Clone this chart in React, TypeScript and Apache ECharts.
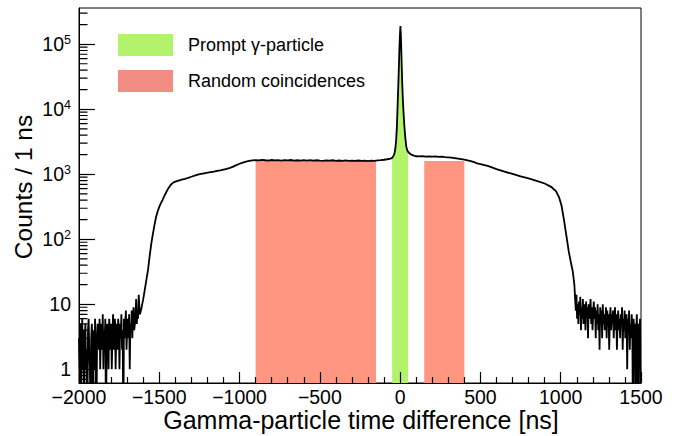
import React, { useEffect, useRef } from "react";
import * as echarts from "echarts";

const FONT = '"Liberation Sans", Arial, Helvetica, sans-serif';

// Axis ranges
const X_MIN = -2000;
const X_MAX = 1500;
const X_STEP = 500;
const Y_MIN_COUNT = 0.616;
const Y_MAX_COUNT = 360000;

// Histogram: noisy tails (counts per 1 ns, sampled every noiseBin ns)
const noiseBin = 4;
const leftNoiseStart = -2000;
const leftNoise = [
  3, 1, 5, 0, 2, 6, 1, 4, 0, 3, 5, 1, 2, 0, 4, 6, 2, 1, 0, 3, 5, 2, 0, 4, 1, 6, 3, 0, 2, 5,
  4, 2, 6, 1, 3, 5, 2, 7, 1, 4, 3, 6, 0, 2, 5, 3, 1, 6, 4, 2, 5, 1, 3, 7, 2, 4, 6, 1, 3, 5,
  2, 6, 4, 1, 5, 3, 7, 2, 4, 0, 6, 3, 5, 8, 2, 4, 6, 3, 7, 1, 5, 4, 8, 3, 6, 9, 4, 5, 7, 12,
  5, 8, 6, 14, 9,
];
const rightNoiseStart = 1090;
const rightNoise = [
  12, 8, 14, 6, 10, 5, 11, 7, 13, 4, 9, 6, 12, 5, 8, 10, 4, 11, 7, 9, 3, 10, 6, 8, 12, 5, 9, 4, 7, 11,
  6, 9, 3, 8, 5, 10, 4, 7, 2, 9, 6, 8, 3, 10, 5, 7, 4, 6, 9, 3, 8, 5, 7, 2, 6, 9, 4, 7, 5, 8,
  3, 6, 9, 4, 7, 2, 5, 8, 4, 6, 3, 7, 5, 9, 2, 6, 4, 8, 3, 5, 7, 1, 6, 4, 8, 2, 5, 3, 7, 4,
  0, 6, 3, 5, 0, 4, 7, 2, 0, 5, 3, 6, 0,
];

// Histogram: smooth central part (time [ns], counts)
const curveTimes = [
  -1620, -1610, -1600, -1590, -1580, -1570, -1560, -1550, -1540, -1530, -1520, -1510, -1500,
  -1490, -1480, -1470, -1460, -1450, -1440, -1430, -1420, -1410, -1400, -1380, -1360, -1340,
  -1320, -1300, -1280, -1260, -1240, -1220, -1200, -1180, -1160, -1140, -1120, -1100, -1080,
  -1060, -1040, -1020, -1000, -980, -960, -940, -920, -900,
  -880, -860, -840, -820, -800, -780, -760, -740, -720, -700, -680, -660, -640, -620, -600,
  -580, -560, -540, -520, -500, -480, -460, -440, -420, -400, -380, -360, -340, -320, -300,
  -280, -260, -240, -220, -200, -180, -160, -140, -120, -100, -80, -60,
  -50, -40, -35, -30, -25, -20, -15, -10, -6, -3, 0, 2, 4, 6, 8, 10, 13, 17, 21, 25, 29, 33,
  38, 44, 50, 58, 70, 85, 100,
  120, 140, 160, 180, 200, 220, 240, 260, 280, 300, 320, 340, 360, 380, 400, 420, 440, 460,
  480, 500,
  550, 600, 650, 700, 750, 800, 850, 900, 940, 970, 990, 1005, 1020, 1035, 1050, 1065, 1075,
  1085,
];
const curveCounts = [
  7, 9, 12, 17, 24, 34, 55, 85, 120, 165, 220, 270, 315,
  360, 400, 455, 510, 570, 625, 680, 720, 750, 770, 800, 825, 850,
  880, 915, 950, 985, 1010, 1035, 1055, 1080, 1100, 1125, 1150, 1180, 1210,
  1250, 1310, 1380, 1450, 1510, 1560, 1600, 1630, 1650,
  1635, 1660, 1640, 1625, 1655, 1630, 1650, 1620, 1645, 1630, 1655, 1620, 1640, 1615, 1645,
  1625, 1650, 1615, 1640, 1620, 1605, 1635, 1615, 1640, 1610, 1625, 1600, 1630, 1610, 1620,
  1600, 1625, 1605, 1615, 1595, 1620, 1610, 1630, 1645, 1670, 1700, 1740,
  1780, 1950, 2100, 2500, 3300, 5500, 13000, 30000, 65000, 110000, 160000, 190000, 150000,
  105000, 70000, 45000, 25000, 14000, 9000, 6200, 4500, 3500,
  2700, 2350, 2200, 2100, 2000, 1930, 1890,
  1880, 1900, 1870, 1885, 1860, 1875, 1850, 1860, 1830, 1820, 1800, 1770, 1740, 1710, 1680,
  1640, 1590, 1530, 1470, 1430,
  1330, 1200, 1100, 1010, 930, 860, 790, 720, 640, 550, 440, 330, 200, 115, 65, 42, 32,
  20,
];

// Highlighted windows
const promptWindow = [-50, 50];
const randomWindows = [
  [-900, -150],
  [150, 400],
];
const randomLevel = 1600;

// Legend labels
const promptLabel = "Prompt \u03b3-particle";
const randomLabel = "Random coincidences";

// Log-axis minor tick multipliers and decades
const minorMultipliers = [2, 3, 4, 5, 6, 7, 8, 9];
const minorDecades = [-1, 0, 1, 2, 3, 4, 5];
const minorTickSpan = 53; // tick length expressed in ns along x

const GREEN = "#b3f36c";
const RED_FILL = "#fe9682";
const RED_LEGEND = "#f28d83";

const lg = (c: number) => (c > 0 ? Math.log10(c) : -1);

export default function App() {
  const ref = useRef<HTMLDivElement>(null);

  useEffect(() => {
    if (!ref.current) return;
    const chart = echarts.init(ref.current, undefined, { renderer: "svg" });

    const hist: [number, number][] = [];
    leftNoise.forEach((c, i) => hist.push([leftNoiseStart + i * noiseBin, c]));
    curveTimes.forEach((t, i) => hist.push([t, curveCounts[i]]));
    rightNoise.forEach((c, i) => hist.push([rightNoiseStart + i * noiseBin, c]));
    const histLog = hist.map(([t, c]) => [t, lg(c)]);

    const promptData = histLog.filter(
      ([t]) => t >= promptWindow[0] && t <= promptWindow[1]
    );

    const yMin = Math.log10(Y_MIN_COUNT);
    const yMax = Math.log10(Y_MAX_COUNT);

    const minorComb: any[] = [];
    minorDecades.forEach((d) =>
      minorMultipliers.forEach((m) => {
        const v = Math.log10(m * Math.pow(10, d));
        if (v > yMin && v < yMax) {
          minorComb.push([X_MIN, v]);
          minorComb.push([X_MIN + minorTickSpan, v]);
          minorComb.push([X_MIN, "-"]);
        }
      })
    );

    const randomSeries = randomWindows.map((w) => ({
      type: "line",
      name: randomLabel,
      data: [
        [w[0], lg(randomLevel)],
        [w[1], lg(randomLevel)],
      ],
      symbol: "none",
      showSymbol: false,
      lineStyle: { width: 0, color: RED_FILL },
      itemStyle: { color: RED_FILL },
      areaStyle: { color: RED_FILL, opacity: 1, origin: "start" },
      silent: true,
      z: 1,
    }));

    const option: any = {
      animation: false,
      grid: {
        left: 79,
        right: 37,
        top: 8,
        bottom: 53,
        show: true,
        borderColor: "#000",
        borderWidth: 1,
        backgroundColor: "transparent",
      },
      legend: {
        show: true,
        orient: "vertical",
        left: 118,
        top: 34,
        padding: 0,
        itemWidth: 55,
        itemHeight: 22,
        itemGap: 14,
        selectedMode: false,
        itemStyle: { borderWidth: 0 },
        textStyle: {
          fontFamily: FONT,
          fontSize: 18,
          color: "#000",
          padding: [0, 0, 0, 10],
        },
        data: [
          { name: promptLabel, icon: "rect", itemStyle: { color: GREEN, borderWidth: 0 } },
          { name: randomLabel, icon: "rect", itemStyle: { color: RED_LEGEND, borderWidth: 0 } },
        ],
      },
      xAxis: {
        type: "value",
        min: X_MIN,
        max: X_MAX,
        interval: X_STEP,
        z: 5,
        splitLine: { show: false },
        axisLine: { show: true, onZero: false, lineStyle: { color: "#000", width: 1 } },
        axisTick: { show: true, inside: true, length: 11, lineStyle: { color: "#000", width: 1.2 } },
        minorTick: { show: true, splitNumber: 5, length: 6, lineStyle: { color: "#000", width: 1.2 } },
        minorSplitLine: { show: false },
        axisLabel: {
          color: "#000",
          fontFamily: FONT,
          fontSize: 19.5,
          margin: 4,
          formatter: (v: number) => (v < 0 ? "\u2212" + Math.abs(v) : String(v)),
        },
      },
      yAxis: {
        type: "value",
        min: yMin,
        max: yMax,
        minInterval: 1,
        maxInterval: 1,
        z: 5,
        splitLine: { show: false },
        axisLine: { show: true, onZero: false, lineStyle: { color: "#000", width: 1 } },
        axisTick: { show: true, inside: true, length: 16, lineStyle: { color: "#000", width: 1.2 } },
        axisLabel: {
          color: "#000",
          margin: 8,
          showMinLabel: false,
          showMaxLabel: false,
          formatter: (v: number) => {
            if (Math.abs(v - Math.round(v)) > 1e-6) return "";
            const n = Math.round(v);
            if (n === 0) return "{b|1}";
            if (n === 1) return "{b|10}";
            return "{b|10}{s|" + n + "}";
          },
          rich: {
            b: { fontFamily: FONT, fontSize: 19.5, lineHeight: 22, color: "#000" },
            s: { fontFamily: FONT, fontSize: 12.5, verticalAlign: "top", color: "#000" },
          },
        },
      },
      series: [
        ...randomSeries,
        {
          type: "line",
          name: promptLabel,
          data: promptData,
          symbol: "none",
          showSymbol: false,
          lineStyle: { width: 0, color: GREEN },
          itemStyle: { color: GREEN },
          areaStyle: { color: GREEN, opacity: 1, origin: "start" },
          silent: true,
          z: 2,
        },
        {
          type: "line",
          name: "histogram",
          data: histLog,
          symbol: "none",
          showSymbol: false,
          clip: true,
          lineStyle: { width: 1.8, color: "#000", join: "miter" },
          itemStyle: { color: "#000" },
          silent: true,
          z: 3,
        },
        {
          type: "line",
          name: "minorTicks",
          data: minorComb,
          symbol: "none",
          showSymbol: false,
          connectNulls: false,
          clip: false,
          lineStyle: { width: 1.2, color: "#000" },
          itemStyle: { color: "#000" },
          silent: true,
          z: 6,
        },
      ],
      graphic: [
        {
          type: "text",
          x: 361,
          y: 420,
          style: {
            text: "Gamma-particle time difference [ns]",
            fontFamily: FONT,
            fontSize: 25,
            fill: "#000",
            align: "center",
            textAlign: "center",
            verticalAlign: "middle",
            textVerticalAlign: "middle",
          },
        },
        {
          type: "text",
          x: 23,
          y: 187,
          rotation: Math.PI / 2,
          style: {
            text: "Counts / 1 ns",
            fontFamily: FONT,
            fontSize: 24.5,
            fill: "#000",
            align: "center",
            textAlign: "center",
            verticalAlign: "middle",
            textVerticalAlign: "middle",
          },
        },
      ],
    };

    chart.setOption(option);
    return () => chart.dispose();
  }, []);

  return (
    <div
      ref={ref}
      style={{ position: "fixed", left: 0, top: 0, width: 678, height: 436, background: "#fff" }}
    />
  );
}
